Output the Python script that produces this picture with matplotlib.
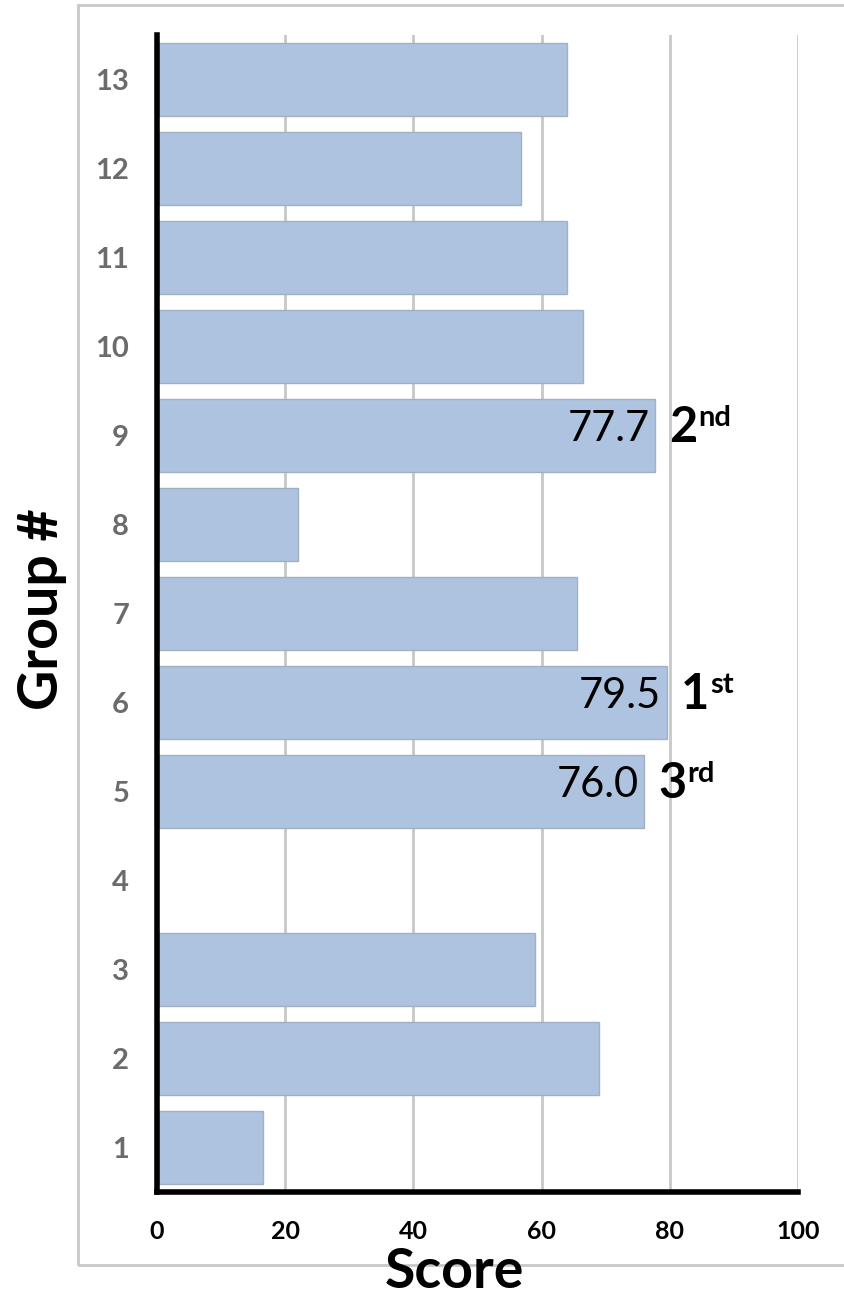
import matplotlib.pyplot as plt
from matplotlib.patches import Rectangle

groups = list(range(1, 14))
scores = [16.5, 69.0, 59.0, 0, 76.0, 79.5, 65.5, 22.0, 77.7, 66.5, 64.0, 56.8, 64.0]
top_groups = [9, 6, 5]
top_labels = ["77.7", "79.5", "76.0"]
rank_main = ["2", "1", "3"]
rank_sup = ["nd", "st", "rd"]

plt.rcParams['font.family'] = ['Lato', 'DejaVu Sans']

fig = plt.figure(figsize=(8.44, 12.96), dpi=100)
# outer chart-area border
fig.patches.append(Rectangle((78 / 844, 1 - 1265 / 1296), 1.0, 1260 / 1296,
                             transform=fig.transFigure, fill=False,
                             edgecolor='#c8c8c8', linewidth=2))

ax = fig.add_axes([157 / 844, 1 - 1192 / 1296, 641 / 844, 1157 / 1296])
ax.barh(groups, scores, height=0.83, color='#adc3e0', edgecolor='#a2b0c4',
        linewidth=1, zorder=2)

ax.set_xlim(0, 100)
ax.set_ylim(0.5, 13.5)
ax.set_xticks([0, 20, 40, 60, 80, 100])
ax.set_yticks(groups)
ax.grid(axis='x', color='#c8c8c8', linewidth=2, zorder=1)
ax.set_axisbelow(True)

for s in ['top', 'right']:
    ax.spines[s].set_visible(False)
for s in ['left', 'bottom']:
    ax.spines[s].set_linewidth(4)
    ax.spines[s].set_color('black')

ax.tick_params(axis='y', length=0, pad=20, labelsize=21, labelcolor='#6b6b6b')
ax.tick_params(axis='x', length=0, pad=20, labelsize=18, labelcolor='black')
for lbl in ax.get_yticklabels():
    lbl.set_fontweight('bold')
for lbl in ax.get_xticklabels():
    lbl.set_fontweight('bold')

fig.text(454 / 844, 1 - 1272 / 1296, 'Score', ha='center', va='center',
         fontsize=40, fontweight='bold', zorder=5)
fig.text(42 / 844, 1 - 609 / 1296, 'Group #', ha='center', va='center',
         rotation=90, fontsize=40, fontweight='bold')

for g, lab, rm, rs in zip(top_groups, top_labels, rank_main, rank_sup):
    val = scores[g - 1]
    ax.annotate(lab, xy=(val, g), xytext=(-4, -4), textcoords='offset points',
                ha='right', va='baseline', fontsize=30, color='black', zorder=3)
    t = ax.annotate(rm, xy=(val, g), xytext=(10, -5), textcoords='offset points',
                    ha='left', va='baseline', fontsize=35, fontweight='bold')
    ax.annotate(rs, xy=(1, 1), xycoords=t, xytext=(1, 0),
                textcoords='offset points', ha='left', va='top',
                fontsize=21, fontweight='bold')

fig.savefig('out.png', dpi=100)
